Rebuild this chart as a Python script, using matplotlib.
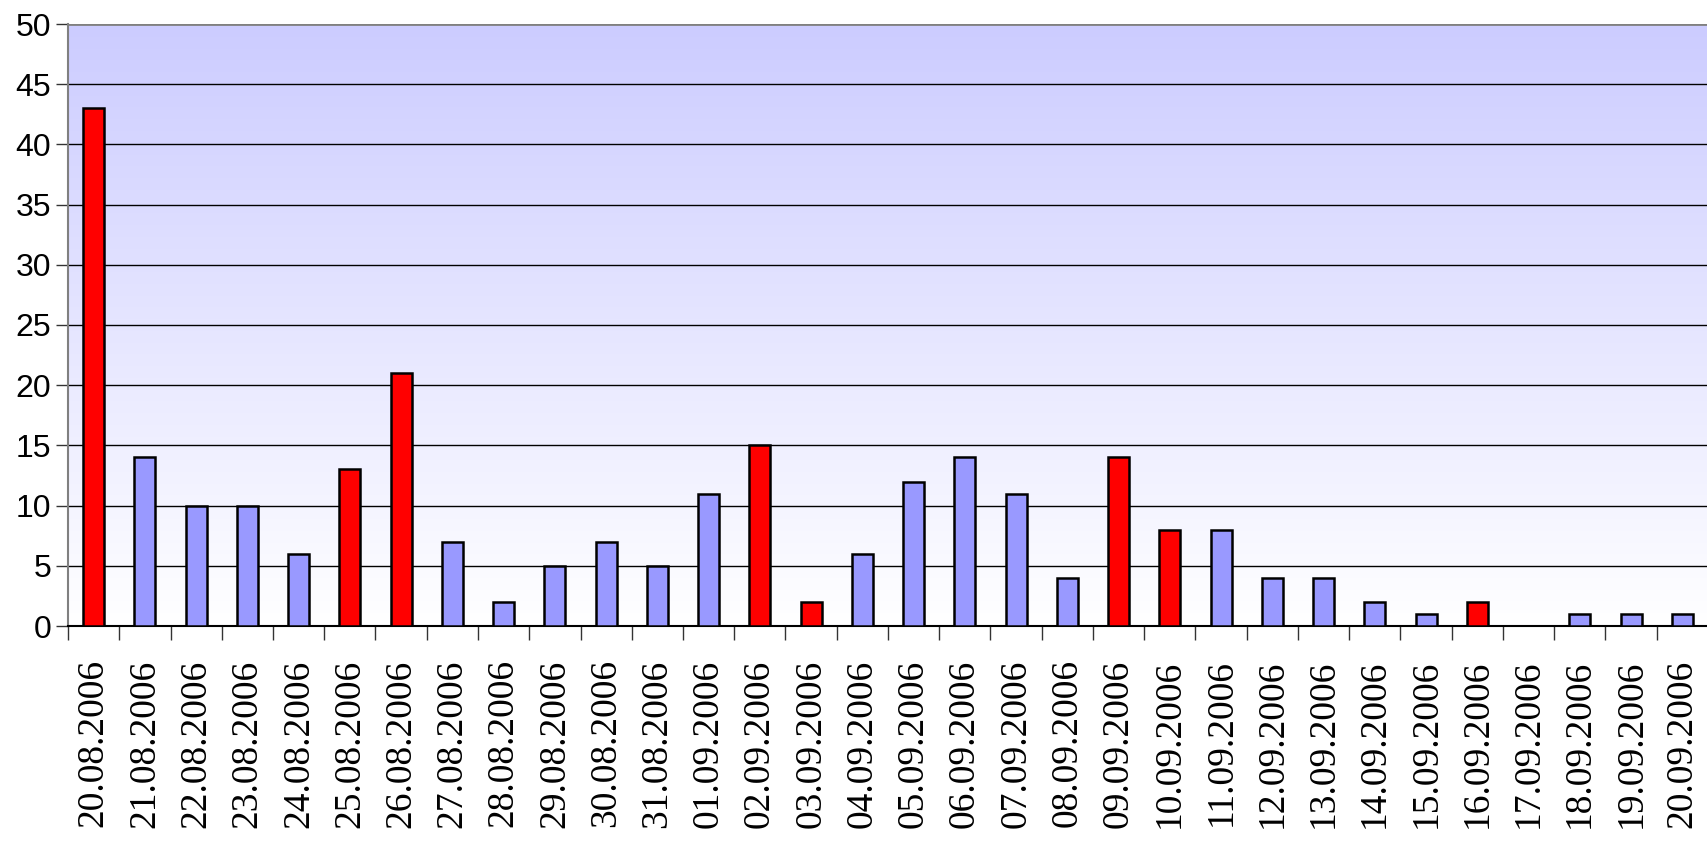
import matplotlib
matplotlib.use('Agg')
import matplotlib.pyplot as plt
import numpy as np

dates = ['20.08.2006', '21.08.2006', '22.08.2006', '23.08.2006', '24.08.2006',
         '25.08.2006', '26.08.2006', '27.08.2006', '28.08.2006', '29.08.2006',
         '30.08.2006', '31.08.2006', '01.09.2006', '02.09.2006', '03.09.2006',
         '04.09.2006', '05.09.2006', '06.09.2006', '07.09.2006', '08.09.2006',
         '09.09.2006', '10.09.2006', '11.09.2006', '12.09.2006', '13.09.2006',
         '14.09.2006', '15.09.2006', '16.09.2006', '17.09.2006', '18.09.2006',
         '19.09.2006', '20.09.2006']
values = [43, 14, 10, 10, 6, 13, 21, 7, 2, 5, 7, 5, 11, 15, 2,
          6, 12, 14, 11, 4, 14, 8, 8, 4, 4, 2, 1, 2, 0, 1, 1, 1]
highlighted = ['20.08.2006', '25.08.2006', '26.08.2006', '02.09.2006',
               '03.09.2006', '09.09.2006', '10.09.2006', '16.09.2006']

fig = plt.figure(figsize=(17.08, 8.41), dpi=100)
ax = fig.add_axes([68 / 1708, 1 - 626 / 841, 1 - 68 / 1708, (626 - 24) / 841])

x = np.arange(len(dates))
colors = ['#ff0000' if d in highlighted else '#9999ff' for d in dates]
ax.bar(x, values, width=0.41, color=colors, edgecolor='black', linewidth=1.8, zorder=3)

# gradient background
grad = np.linspace(0, 1, 256).reshape(-1, 1)
top = np.array([204, 204, 255]) / 255
bottom = np.array([255, 255, 255]) / 255
img = bottom + (top - bottom) * grad[:, :, None]
ax.imshow(img, extent=[-0.5, len(dates), 0, 50], origin='lower', aspect='auto', zorder=0)
ax.set_xlim(-0.5, len(dates) - 0.5 - 0.12)
ax.set_ylim(0, 50)

for v in range(5, 50, 5):
    ax.axhline(v, color='black', linewidth=1.0, zorder=1)
ax.axhline(50, color='#808080', linewidth=2.0, zorder=1)

ax.set_yticks(range(0, 51, 5))
ax.tick_params(axis='y', labelsize=23, length=9, width=1, color='#333333', pad=3)
for lab in ax.get_yticklabels():
    lab.set_family('Liberation Sans')

ax.set_xticks(np.arange(len(dates) + 1) - 0.5, minor=False)
ax.set_xticklabels([])
ax.tick_params(axis='x', which='major', length=10, width=1, color='#333333')
ax.set_xticks(x, minor=True)
ax.set_xticklabels(dates, minor=True, rotation=90, fontsize=27,
                   family='Liberation Serif', va='top', ha='center')
ax.tick_params(axis='x', which='minor', length=0, pad=24)

ax.spines['top'].set_visible(False)
ax.spines['right'].set_visible(False)
ax.spines['left'].set_color('#808080')
ax.spines['left'].set_linewidth(1.5)
ax.spines['bottom'].set_color('black')
ax.spines['bottom'].set_linewidth(1.5)

fig.savefig('out.png', dpi=100)
